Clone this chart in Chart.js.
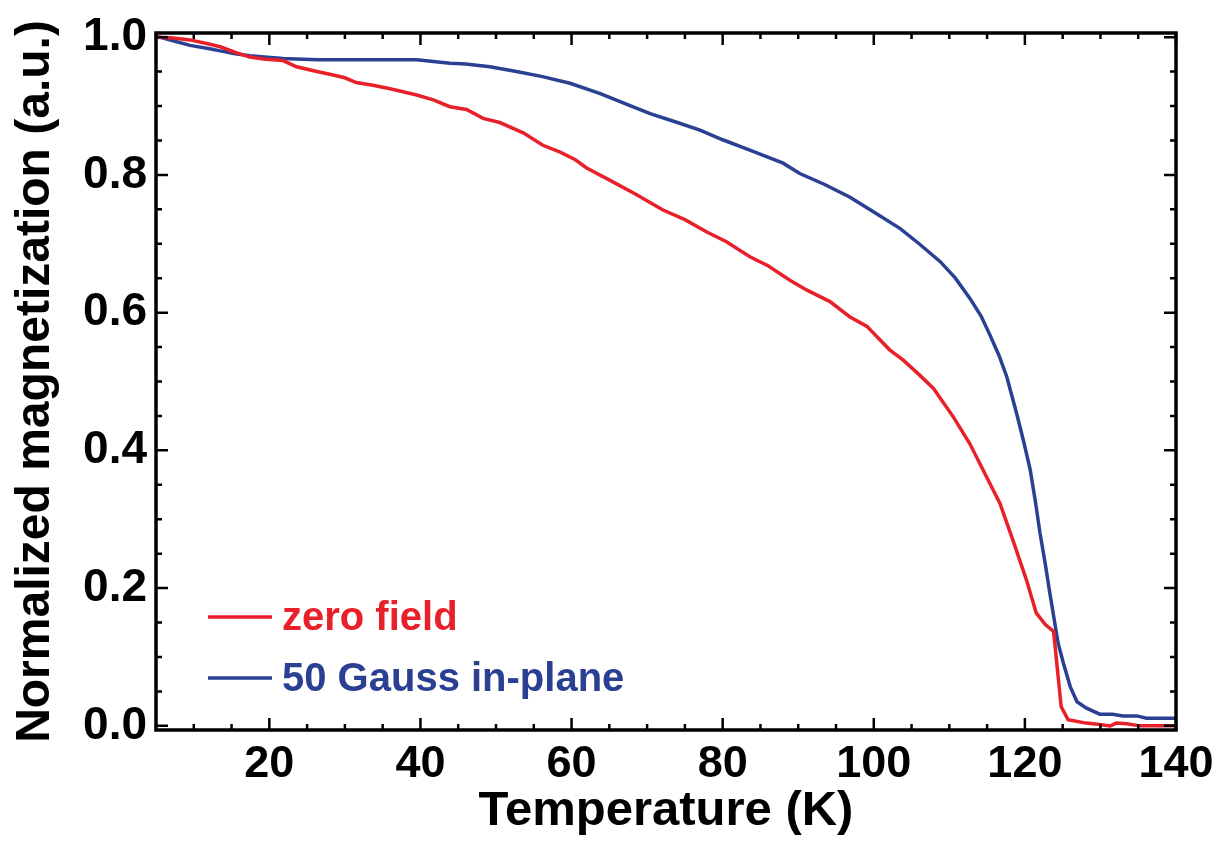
<!DOCTYPE html>
<html>
<head>
<meta charset="utf-8">
<script src="https://cdn.jsdelivr.net/npm/chart.js@4.4.1/dist/chart.umd.min.js"></script>
<style>
  html, body { margin: 0; padding: 0; background: #fff; }
  #wrap { width: 1223px; height: 847px; }
</style>
</head>
<body>
<div id="wrap"><canvas id="magChart"></canvas></div>
<script>
// temperature (K) and normalized magnetization
const tZero = [5, 7, 9.5, 12, 13.5, 15.5, 17.4, 19.5, 21.8, 23.6, 26.3, 28, 30, 31.5, 33.7, 36, 39.5, 41.7,
  43.9, 46.1, 48.3, 50.5, 53.6, 56.2, 58.5, 60.5, 62, 65.1, 68.5, 72.1, 75, 77.9, 80.5, 83.6, 86, 88.9,
  91.1, 94.2, 96.8, 99.1, 102.1, 103.9, 106, 107.9, 110.5, 112.7, 114.9, 116.7, 118.4, 120.2, 121.5,
  122.7, 123.8, 124.8, 125.7, 128.1, 129.9, 131.3, 132.1, 133.5, 135.2, 140];
const mZero = [1.0, 0.999, 0.996, 0.99, 0.986, 0.978, 0.971, 0.968, 0.966, 0.957, 0.95, 0.946, 0.941, 0.934,
  0.93, 0.925, 0.916, 0.909, 0.899, 0.895, 0.882, 0.876, 0.861, 0.843, 0.833, 0.822, 0.81, 0.792, 0.772,
  0.749, 0.735, 0.717, 0.703, 0.681, 0.668, 0.647, 0.633, 0.616, 0.594, 0.58, 0.546, 0.531, 0.51, 0.49,
  0.449, 0.41, 0.362, 0.323, 0.27, 0.212, 0.164, 0.147, 0.137, 0.028, 0.009, 0.004, 0.002, 0.0, 0.004,
  0.003, 0.0, 0.0];

const tField = [5, 5.5, 7.5, 9.5, 12.1, 13.5, 15.5, 17.4, 21.8, 26.3, 32, 39.5, 43.9, 46, 49.2, 52.7, 56,
  59.8, 63.8, 67, 70.4, 74, 77, 80, 83.6, 88, 90.2, 93.5, 96.8, 100, 103.5, 106, 108.8, 110.8, 112.7,
  114.2, 115.4, 116.6, 117.6, 118.9, 119.9, 120.7, 121.4, 122, 122.7, 123.3, 124.4, 125.1, 126, 126.9,
  128.1, 129.9, 131.6, 133, 134.8, 136.1, 140];
const mField = [1.0, 1.0, 0.994, 0.988, 0.983, 0.98, 0.976, 0.973, 0.969, 0.967, 0.967, 0.967, 0.962, 0.961,
  0.957, 0.95, 0.943, 0.933, 0.918, 0.904, 0.889, 0.876, 0.865, 0.851, 0.836, 0.817, 0.802, 0.786, 0.768,
  0.746, 0.722, 0.7, 0.674, 0.65, 0.621, 0.595, 0.567, 0.537, 0.507, 0.454, 0.41, 0.372, 0.325, 0.28,
  0.235, 0.193, 0.12, 0.091, 0.057, 0.035, 0.026, 0.017, 0.017, 0.0145, 0.0145, 0.011, 0.011];

const seriesLabels = ['zero field', '50 Gauss in-plane'];
const seriesColors = ['#e8202a', '#2b3f93'];
const xTickLabels = [20, 40, 60, 80, 100, 120, 140];
const yTickLabels = [0.0, 0.2, 0.4, 0.6, 0.8, 1.0];

function toPoints(xs, ys) {
    return xs.map((x, i) => ({ x: x, y: ys[i] }));
}

// box around the plot with inward ticks on all four sides
const frameTicks = {
    id: 'frameTicks',
    afterDatasetsDraw(chart) {
        const { ctx, chartArea: a, scales: { x, y } } = chart;
        ctx.save();
        ctx.strokeStyle = '#000';
        ctx.lineWidth = 2.5;
        ctx.beginPath();
        for (let v = 5; v <= 140; v += 5) {
            const px = x.getPixelForValue(v);
            const len = v % 20 === 0 ? 12 : 6;
            ctx.moveTo(px, a.bottom); ctx.lineTo(px, a.bottom - len);
            ctx.moveTo(px, a.top); ctx.lineTo(px, a.top + len);
        }
        for (let i = 0; i <= 20; i++) {
            const v = i * 0.05;
            const py = y.getPixelForValue(v);
            const len = i % 4 === 0 ? 12 : 6;
            ctx.moveTo(a.left, py); ctx.lineTo(a.left + len, py);
            ctx.moveTo(a.right, py); ctx.lineTo(a.right - len, py);
        }
        ctx.stroke();
        ctx.lineWidth = 3.5;
        ctx.strokeRect(a.left, a.top, a.right - a.left, a.bottom - a.top);
        ctx.restore();
    }
};

// legend inside the plot, bottom left
const insideLegend = {
    id: 'insideLegend',
    afterDraw(chart) {
        const { ctx, chartArea: a } = chart;
        ctx.save();
        ctx.font = 'bold 40px "Liberation Sans", Arial, sans-serif';
        ctx.textBaseline = 'middle';
        chart.data.datasets.forEach((ds, i) => {
            const yy = a.top + 584 + i * 61;
            ctx.strokeStyle = ds.borderColor;
            ctx.lineWidth = 3.5;
            ctx.beginPath();
            ctx.moveTo(a.left + 52, yy);
            ctx.lineTo(a.left + 116, yy);
            ctx.stroke();
            ctx.fillStyle = ds.borderColor;
            ctx.fillText(ds.label, a.left + 126, yy + 2);
        });
        ctx.restore();
    }
};

new Chart(document.getElementById('magChart'), {
    type: 'line',
    data: {
        datasets: [
            { label: seriesLabels[0], data: toPoints(tZero, mZero), borderColor: seriesColors[0],
              borderWidth: 3.5, pointRadius: 0, tension: 0 },
            { label: seriesLabels[1], data: toPoints(tField, mField), borderColor: seriesColors[1],
              borderWidth: 3.5, pointRadius: 0, tension: 0 }
        ]
    },
    options: {
        responsive: true,
        maintainAspectRatio: false,
        animation: false,
        layout: { padding: { top: 33, right: 47, left: 0, bottom: 0 } },
        plugins: {
            legend: { display: false },
            tooltip: { enabled: false }
        },
        scales: {
            x: {
                type: 'linear',
                min: 5,
                max: 140,
                grid: { display: false, drawTicks: false },
                border: { display: false },
                afterBuildTicks: s => { s.ticks = xTickLabels.map(v => ({ value: v })); },
                afterFit: s => { s.height = 117; },
                ticks: {
                    color: '#000',
                    padding: 8,
                    maxRotation: 0,
                    font: { family: '"Liberation Sans", Arial', weight: 'bold', size: 45 }
                },
                title: {
                    display: true,
                    text: 'Temperature (K)',
                    color: '#000',
                    padding: { top: 0, bottom: 6 },
                    font: { family: '"Liberation Sans", Arial', weight: 'bold', size: 49 }
                }
            },
            y: {
                min: -0.006,
                max: 1.006,
                grid: { display: false, drawTicks: false },
                border: { display: false },
                afterBuildTicks: s => { s.ticks = yTickLabels.map(v => ({ value: v })); },
                afterFit: s => { s.width = 156; },
                ticks: {
                    color: '#000',
                    padding: 9,
                    callback: v => Number(v).toFixed(1),
                    font: { family: '"Liberation Sans", Arial', weight: 'bold', size: 46, lineHeight: 1 }
                },
                title: {
                    display: true,
                    text: 'Normalized magnetization (a.u.)',
                    color: '#000',
                    padding: { top: 7, bottom: 0 },
                    font: { family: '"Liberation Sans", Arial', weight: 'bold', size: 48 }
                }
            }
        }
    },
    plugins: [frameTicks, insideLegend]
});
</script>
</body>
</html>
